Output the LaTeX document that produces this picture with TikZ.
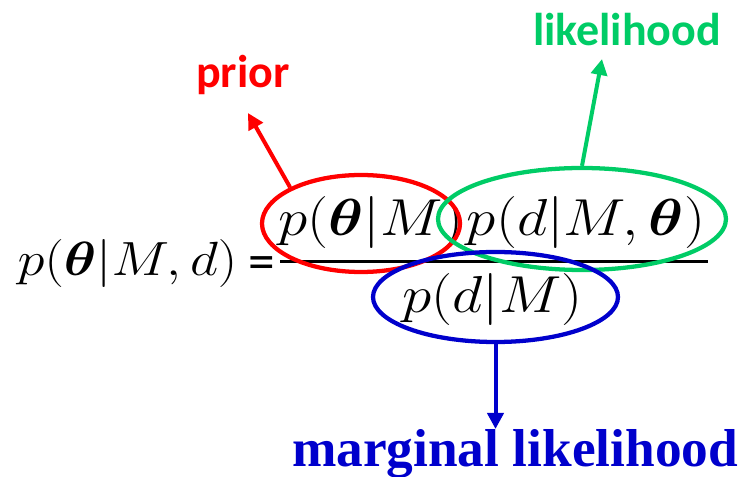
\RequirePackage{fix-cm}
\documentclass[tikz,border=0pt]{standalone}
\usepackage{amsmath,bm}
\usepackage{graphicx}
\usepackage{fontspec}
\setsansfont{Carlito}
\newfontfamily\tagserif{Liberation Serif}
\usepackage{tikz}
\usetikzlibrary{shapes.geometric,arrows.meta,positioning}

\definecolor{priorred}{RGB}{255,0,0}
\definecolor{likegreen}{RGB}{0,204,102}
\definecolor{margblue}{RGB}{0,0,204}
\newcommand{\wideeq}[1]{\scalebox{1.14}[1]{$#1$}}

\begin{document}
\begin{tikzpicture}[x=0.75pt,y=-0.75pt,
  eqleft/.style={inner sep=0pt,anchor=base,font=\fontsize{36}{40}\selectfont},
  eqfrac/.style={inner sep=0pt,anchor=base,font=\fontsize{39}{44}\selectfont},
  ring/.style={ellipse,draw,line width=3.2pt,inner sep=0pt},
  arr/.style={line width=3pt,-{Triangle[length=12pt,width=12pt]}},
  tag/.style={inner sep=0pt,anchor=base,font=\sffamily\bfseries\fontsize{34.5}{40}\selectfont},
]
  \useasboundingbox (0,0) rectangle (744,477);

  % the equation
  \node[eqleft] (post) at (127.5,276) {\wideeq{p(\bm{\theta}|M,d)}};
  \node[inner sep=0pt,anchor=base,font=\sffamily\fontsize{40}{44}\selectfont] (equals) at (262,280) {=};
  \coordinate (barL) at (280,261.5);
  \coordinate (barR) at (708,261.5);
  \draw[line width=2.4pt] (barL) -- (barR);
  \node[eqfrac] (priorterm) at (371,236) {\wideeq{p(\bm{\theta}|M)}};
  \node[eqfrac] (liketerm) at (586,236) {\wideeq{p(d|M,\bm{\theta})}};
  \node[eqfrac] (margterm) at (492.5,313) {\wideeq{p(d|M)}};

  % circled terms
  \node[ring,draw=priorred,minimum width=148.5pt,minimum height=72.75pt] (priorring) at (361,223.5) {};
  \node[ring,draw=likegreen,minimum width=216pt,minimum height=76.5pt] (likering) at (582,219) {};
  \node[ring,draw=margblue,minimum width=183.75pt,minimum height=67.5pt] (margring) at (495.5,297) {};

  % labels
  \node[tag,text=priorred] (prior) at (243,88) {prior};
  \node[tag,text=likegreen] (likel) at (627,46) {likelihood};
  \node[inner sep=0pt,anchor=base,text=margblue,font=\tagserif\bfseries\fontsize{40}{46}\selectfont] (marg) at (515,467) {marginal likelihood};

  % arrows
  \coordinate (priortip) at (248,113);
  \coordinate (liketip) at (602,59);
  \coordinate (margtip) at (495.5,429);
  \draw[arr,priorred] (priorring.153) -- (priortip);
  \draw[arr,likegreen] (likering.north) -- (liketip);
  \draw[arr,margblue] (margring.south) -- (margtip);
\end{tikzpicture}
\end{document}
